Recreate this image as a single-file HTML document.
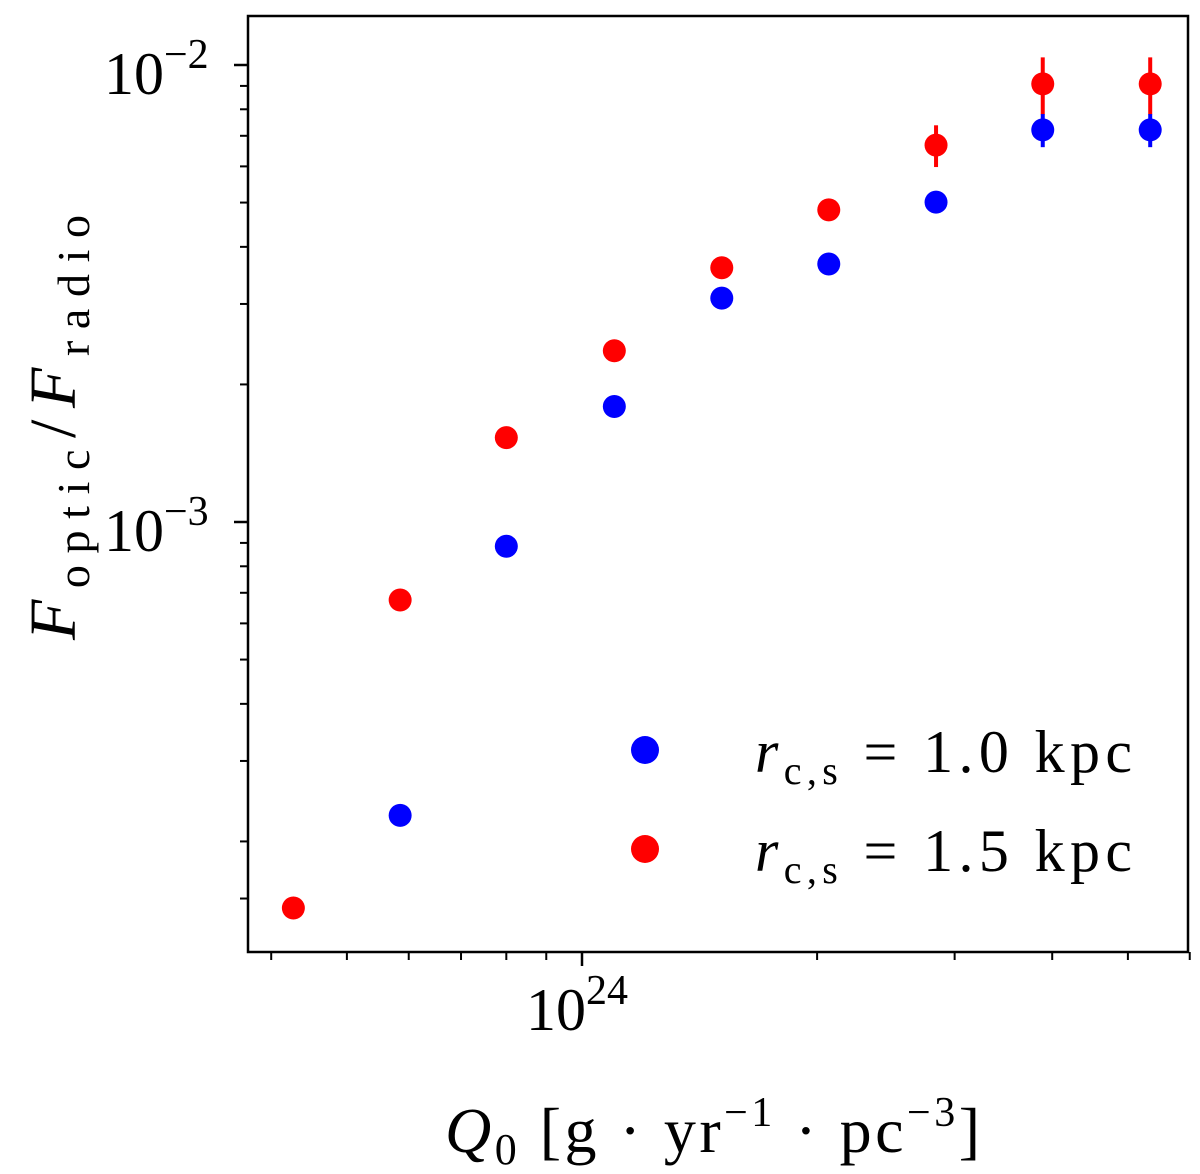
<!DOCTYPE html>
<html><head><meta charset="utf-8"><style>
body{margin:0;background:#fff}
svg{display:block}
text{font-family:"Liberation Serif","DejaVu Serif",serif;fill:#000}
</style></head><body>
<svg id="chart" width="1200" height="1174" viewBox="0 0 1200 1174">
<g id="marks"></g>
<g id="axes"></g>
<rect x="248" y="16" width="940" height="936" fill="none" stroke="#000" stroke-width="2.5"/>
<text x="104" y="94" font-size="60">10<tspan dy="-26" font-size="42">−2</tspan></text>
<text x="104" y="551" font-size="60">10<tspan dy="-26" font-size="42">−3</tspan></text>
<text x="526" y="1030" font-size="60">10<tspan dy="-26" font-size="42">24</tspan></text>
<text transform="translate(75,640) rotate(-90)" font-size="66" textLength="425" lengthAdjust="spacing"><tspan font-style="italic">F</tspan><tspan font-size="46" dy="14">optic</tspan><tspan dy="-14">/</tspan><tspan font-style="italic">F</tspan><tspan font-size="46" dy="14">radio</tspan></text>
<text x="445" y="1152" font-size="64" textLength="535" lengthAdjust="spacing"><tspan font-style="italic">Q</tspan><tspan font-size="44" dy="12">0</tspan><tspan dy="-12">  [g · yr</tspan><tspan font-size="42" dy="-26">−1</tspan><tspan dy="26"> · pc</tspan><tspan font-size="42" dy="-26">−3</tspan><tspan dy="26">]</tspan></text>
<g>
<circle cx="645" cy="750" r="14" fill="#0000ff"/>
<text x="755" y="772" font-size="60" textLength="377" lengthAdjust="spacing"><tspan font-style="italic">r</tspan><tspan font-size="40" dy="12">c,s</tspan><tspan dy="-12"> = 1.0 kpc</tspan></text>
<circle cx="645" cy="849" r="14" fill="#ff0000"/>
<text x="755" y="871" font-size="60" textLength="377" lengthAdjust="spacing"><tspan font-style="italic">r</tspan><tspan font-size="40" dy="12">c,s</tspan><tspan dy="-12"> = 1.5 kpc</tspan></text>
</g>
</svg>
<script>
const xRed=[4.27e23,5.85e23,8.0e23,1.10e24,1.51e24,2.07e24,2.84e24,3.89e24,5.34e24];
const yRed=[1.43e-4,6.75e-4,1.53e-3,2.37e-3,3.6e-3,4.82e-3,6.68e-3,9.09e-3,9.09e-3];
const errRed=[0,0,0,0,0,0,0.7e-3,1.3e-3,1.3e-3];
const xBlue=[5.85e23,8.0e23,1.10e24,1.51e24,2.07e24,2.84e24,3.89e24,5.34e24];
const yBlue=[2.28e-4,8.85e-4,1.79e-3,3.09e-3,3.67e-3,5.01e-3,7.21e-3,7.21e-3];
const errBlue=[0,0,0,0,0,0,0.6e-3,0.6e-3];
const xMinorTicks=[4e23,5e23,6e23,7e23,8e23,9e23,2e24,3e24,4e24,5e24,6e24];
const yMinorTicks=[1.5e-4,2e-4,3e-4,4e-4,5e-4,6e-4,7e-4,8e-4,9e-4,2e-3,3e-3,4e-3,5e-3,6e-3,7e-3,8e-3,9e-3];
const yMajorTicks=[1e-3,1e-2];
const xMajorTicks=[1e24];
const NS="http://www.w3.org/2000/svg";
function X(v){return 582+781*Math.log10(v/1e24);}
function Y(v){return 65+457*(-2-Math.log10(v));}
const marks=document.getElementById('marks'),axes=document.getElementById('axes');
function mk(t,a,p){const e=document.createElementNS(NS,t);for(const k in a)e.setAttribute(k,a[k]);p.appendChild(e);return e;}
function series(xs,ys,es,col,name){
 xs.forEach((x,i)=>{
  if(es[i]>0){
   const l=mk('line',{x1:X(x),x2:X(x),y1:Y(ys[i]+es[i]),y2:Y(ys[i]-es[i]),stroke:col,'stroke-width':4},marks);
   
   
  }
  const c=mk('circle',{cx:X(x),cy:Y(ys[i]),r:11.5,fill:col},marks);
  
  
 });
}
series(xRed,yRed,errRed,'#ff0000','red-series');
series(xBlue,yBlue,errBlue,'#0000ff','blue-series');
xMinorTicks.forEach(v=>{const l=mk('line',{x1:X(v),x2:X(v),y1:952,y2:960,stroke:'#000','stroke-width':2},axes);
 
 });
xMajorTicks.forEach(v=>{const l=mk('line',{x1:X(v),x2:X(v),y1:952,y2:966,stroke:'#000','stroke-width':2.5},axes);
 
 });
yMinorTicks.forEach(v=>{const y=Y(v);if(y<16||y>952)return;const l=mk('line',{x1:240,x2:248,y1:y,y2:y,stroke:'#000','stroke-width':2},axes);
 
 });
yMajorTicks.forEach(v=>{const l=mk('line',{x1:234,x2:248,y1:Y(v),y2:Y(v),stroke:'#000','stroke-width':2.5},axes);
 
 });
</script>
</body></html>
